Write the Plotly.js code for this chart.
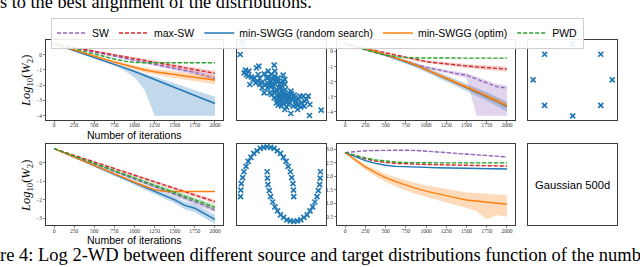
<!DOCTYPE html>
<html><head><meta charset="utf-8">
<script src="https://cdn.plot.ly/plotly-3.0.1.min.js"></script>
<style>html,body{margin:0;padding:0;background:#fff;} #chart{width:640px;height:267px;}</style>
</head><body><div id="chart"></div>
<script>
// ---------- DATA ----------
const iterations = [0,125,250,375,500,625,750,875,1000,1125,1250,1375,1500,1625,1750,1875,2000];
const xTickVals = [0,250,500,750,1000,1250,1500,1750,2000];
const seriesNames = ['SW','max-SW','min-SWGG (random search)','min-SWGG (optim)','PWD'];

// Panel A (top row, left)
const a_sw      = [0.72,0.58,0.44,0.30,0.16,0.02,-0.12,-0.26,-0.40,-0.53,-0.65,-0.77,-0.90,-1.03,-1.17,-1.36,-1.56];
const a_sw_sd   = [0,0.02,0.03,0.04,0.05,0.05,0.06,0.06,0.07,0.08,0.09,0.10,0.11,0.12,0.14,0.16,0.18];
const a_max     = [0.72,0.60,0.47,0.35,0.23,0.10,-0.02,-0.14,-0.26,-0.38,-0.50,-0.62,-0.74,-0.86,-0.98,-1.10,-1.22];
const a_max_sd  = [0,0.03,0.04,0.05,0.06,0.07,0.08,0.08,0.09,0.10,0.11,0.12,0.13,0.14,0.15,0.16,0.17];
const a_rand    = [0.72,0.50,0.27,0.05,-0.17,-0.40,-0.62,-0.86,-1.10,-1.36,-1.62,-1.88,-2.12,-2.38,-2.64,-2.92,-3.20];
const a_rand_hi = [0.72,0.53,0.31,0.10,-0.11,-0.33,-0.54,-0.76,-0.98,-1.20,-1.45,-1.67,-1.88,-2.10,-2.30,-2.52,-2.75];
const a_rand_lo = [0.72,0.47,0.23,0.00,-0.23,-0.47,-0.70,-1.05,-1.50,-2.30,-4.00,-4.00,-4.00,-4.00,-4.00,-4.00,-4.00];
const a_opt     = [0.72,0.52,0.30,0.08,-0.12,-0.30,-0.48,-0.66,-0.85,-1.00,-1.12,-1.22,-1.30,-1.40,-1.50,-1.58,-1.66];
const a_opt_sd  = [0,0.03,0.04,0.05,0.06,0.08,0.10,0.12,0.14,0.16,0.18,0.20,0.22,0.24,0.25,0.26,0.27];
const a_pwd     = [0.72,0.55,0.38,0.20,0.03,-0.13,-0.28,-0.42,-0.51,-0.53,-0.53,-0.53,-0.53,-0.53,-0.53,-0.53,-0.53];
const a_pwd_sd  = [0,0.02,0.02,0.02,0.03,0.03,0.03,0.03,0.03,0.03,0.03,0.03,0.03,0.03,0.03,0.03,0.03];

// Panel C (top row, third)
const c_sw      = [0.50,0.32,0.13,-0.05,-0.25,-0.45,-0.65,-0.88,-1.05,-1.20,-1.35,-1.46,-1.57,-1.82,-2.10,-2.33,-2.42];
const c_sw_hi   = [0.50,0.35,0.17,0.00,-0.19,-0.38,-0.57,-0.79,-0.95,-1.09,-1.23,-1.33,-1.43,-1.67,-1.94,-2.16,-2.24];
const c_sw_lo   = [0.50,0.29,0.09,-0.10,-0.31,-0.52,-0.73,-0.97,-1.15,-1.31,-1.47,-1.59,-1.75,-4.26,-4.26,-4.26,-4.26];
const c_max     = [0.50,0.35,0.20,0.05,-0.10,-0.25,-0.40,-0.55,-0.67,-0.75,-0.83,-0.90,-0.96,-1.02,-1.08,-1.13,-1.17];
const c_max_sd  = [0,0.02,0.03,0.04,0.05,0.06,0.07,0.08,0.09,0.10,0.11,0.12,0.13,0.14,0.15,0.16,0.17];
const c_rand    = [0.50,0.34,0.16,-0.03,-0.23,-0.45,-0.68,-0.93,-1.20,-1.50,-1.79,-2.08,-2.37,-2.67,-2.97,-3.30,-3.65];
const c_rand_sd = [0,0.03,0.05,0.07,0.09,0.11,0.13,0.15,0.17,0.19,0.21,0.23,0.25,0.27,0.29,0.31,0.33];
const c_opt     = [0.50,0.35,0.18,0.00,-0.20,-0.42,-0.65,-0.90,-1.18,-1.48,-1.77,-2.06,-2.35,-2.64,-2.93,-3.26,-3.58];
const c_opt_sd  = [0,0.02,0.03,0.04,0.05,0.06,0.07,0.08,0.09,0.10,0.11,0.12,0.13,0.14,0.15,0.16,0.17];
const c_pwd     = [0.50,0.30,0.10,-0.08,-0.24,-0.35,-0.41,-0.43,-0.44,-0.44,-0.44,-0.44,-0.44,-0.44,-0.44,-0.44,-0.44];
const c_pwd_sd  = [0,0.02,0.02,0.02,0.03,0.03,0.03,0.03,0.03,0.03,0.03,0.03,0.03,0.03,0.03,0.03,0.03];

// Panel E (bottom row, left)
const e_sw      = [0.75,0.55,0.35,0.14,-0.06,-0.27,-0.47,-0.68,-0.88,-1.08,-1.29,-1.49,-1.70,-1.90,-2.10,-2.32,-2.55];
const e_sw_sd   = [0,0.02,0.03,0.04,0.05,0.06,0.07,0.08,0.09,0.10,0.11,0.12,0.12,0.13,0.14,0.15,0.15];
const e_max     = [0.75,0.57,0.39,0.22,0.04,-0.14,-0.32,-0.50,-0.68,-0.85,-1.03,-1.21,-1.39,-1.57,-1.74,-1.92,-2.10];
const e_max_sd  = [0,0.02,0.03,0.04,0.05,0.05,0.06,0.06,0.07,0.07,0.08,0.08,0.09,0.09,0.10,0.10,0.10];
const e_rand    = [0.75,0.52,0.29,0.06,-0.17,-0.40,-0.63,-0.86,-1.10,-1.32,-1.55,-1.78,-2.00,-2.30,-2.45,-2.75,-3.05];
const e_rand_sd = [0,0.02,0.03,0.04,0.05,0.06,0.07,0.08,0.10,0.12,0.14,0.16,0.18,0.20,0.22,0.24,0.25];
const e_opt     = [0.75,0.52,0.30,0.07,-0.15,-0.37,-0.60,-0.82,-1.05,-1.27,-1.45,-1.55,-1.55,-1.55,-1.55,-1.55,-1.55];
const e_opt_sd  = [0,0.02,0.02,0.02,0.03,0.03,0.03,0.03,0.03,0.03,0.03,0.03,0.03,0.03,0.03,0.03,0.03];
const e_pwd     = [0.75,0.55,0.36,0.16,-0.04,-0.23,-0.43,-0.63,-0.82,-1.02,-1.22,-1.41,-1.61,-1.81,-2.00,-2.20,-2.40];
const e_pwd_sd  = [0,0.02,0.03,0.04,0.05,0.06,0.07,0.08,0.09,0.10,0.11,0.12,0.12,0.13,0.14,0.15,0.15];

// Panel G (bottom row, third)
const g_sw      = [2.88,2.92,2.95,2.96,2.97,2.97,2.97,2.96,2.94,2.91,2.88,2.85,2.82,2.79,2.76,2.74,2.72];
const g_sw_sd   = [0,0.01,0.01,0.02,0.02,0.02,0.02,0.02,0.02,0.02,0.02,0.02,0.02,0.02,0.02,0.02,0.02];
const g_max     = [2.88,2.76,2.65,2.57,2.51,2.48,2.46,2.45,2.44,2.43,2.42,2.41,2.40,2.40,2.39,2.39,2.38];
const g_max_sd  = [0,0.01,0.01,0.02,0.02,0.02,0.02,0.02,0.02,0.02,0.02,0.02,0.02,0.02,0.02,0.02,0.02];
const g_rand    = [2.88,2.72,2.58,2.48,2.41,2.37,2.35,2.34,2.33,2.32,2.31,2.30,2.30,2.29,2.28,2.28,2.27];
const g_rand_sd = [0,0.01,0.01,0.02,0.02,0.02,0.02,0.02,0.02,0.02,0.02,0.02,0.02,0.02,0.02,0.02,0.02];
const g_opt     = [2.88,2.60,2.35,2.14,1.95,1.80,1.67,1.55,1.45,1.36,1.28,1.20,1.12,1.08,1.05,1.00,0.96];
const g_opt_hi  = [2.88,2.66,2.44,2.26,2.09,1.96,1.85,1.75,1.67,1.60,1.53,1.46,1.40,1.38,1.35,1.33,1.30];
const g_opt_lo  = [2.88,2.52,2.24,2.00,1.80,1.62,1.48,1.34,1.22,1.12,1.02,0.92,0.82,0.70,0.40,0.55,0.50];
const g_pwd     = [2.88,2.78,2.68,2.61,2.56,2.53,2.51,2.50,2.50,2.50,2.50,2.50,2.50,2.50,2.50,2.50,2.50];
const g_pwd_sd  = [0,0.01,0.01,0.02,0.02,0.02,0.02,0.02,0.02,0.02,0.02,0.02,0.02,0.02,0.02,0.02,0.02];

// Scatter B (top row, 2nd): correlated Gaussian sample
const b_x = [52,46,289,254,198,62,58,65,70,75,88,95,102,97,105,112,118,118,125,128,132,138,140,145,148,150,152,155,158,160,162,165,168,170,172,175,178,180,182,185,188,190,195,198,200,205,208,212,215,218,222,225,230,235,238,245,250,255,148,155,160,165,170,175,180,185,192,135,128,122,140,145,150,158,162,168,175,180,110,105,92,85,80,72,100,130,138,150,165,172,178,188,195,200,210,220,228,240,160,168,176,184,142,152,132];
const b_y = [236,200,33,17,23,153,145,140,135,110,130,160,165,120,128,100,85,142,130,115,132,120,105,125,168,135,110,95,120,130,82,75,100,65,85,138,70,110,95,80,60,50,75,90,65,45,78,60,50,35,65,75,55,75,45,65,75,50,70,55,48,60,45,55,35,42,70,85,100,110,80,95,85,65,100,115,120,125,115,110,115,125,132,150,140,150,140,150,110,92,82,75,55,82,70,48,42,60,72,72,68,64,112,122,108];

// Scatter D (top row, 4th): eight points
const d_x = [0,0.71,1,0.71,0,-0.71,-1,-0.71];
const d_y = [1,0.71,0,-0.71,-1,-0.71,0,0.71];

// Scatter F (bottom row, 2nd): two moons
const f_x = [1,0.99,0.97,0.92,0.87,0.79,0.71,0.61,0.5,0.38,0.26,0.13,0,-0.13,-0.26,-0.38,-0.5,-0.61,-0.71,-0.79,-0.87,-0.92,-0.97,-0.99,-1,
             0,0.01,0.03,0.08,0.13,0.21,0.29,0.39,0.5,0.62,0.74,0.87,1,1.13,1.26,1.38,1.5,1.61,1.71,1.79,1.87,1.92,1.97,1.99,2];
const f_y = [0,0.13,0.26,0.38,0.5,0.61,0.71,0.79,0.87,0.92,0.97,0.99,1,0.99,0.97,0.92,0.87,0.79,0.71,0.61,0.5,0.38,0.26,0.13,0,
             0.5,0.37,0.24,0.12,0,-0.11,-0.21,-0.29,-0.37,-0.42,-0.47,-0.49,-0.5,-0.49,-0.47,-0.42,-0.37,-0.29,-0.21,-0.11,0,0.12,0.24,0.37,0.5];

const panel8Label = 'Gaussian 500d';
const xTitle = 'Number of iterations';
const yTitle = '<i>Log</i><sub>10</sub>(<i>W</i><sub>2</sub>)';
const topText = 's to the best alignment of the distributions.';
const caption = 're 4: Log 2-WD between different source and target distributions function of the number';

// ---------- STYLE ----------
const colors = {sw:'#9467bd', max:'#d62728', rand:'#1f77b4', opt:'#ff7f0e', pwd:'#2ca02c'};
const bandAlpha = {sw:'rgba(148,103,189,0.28)', max:'rgba(214,39,40,0.22)', rand:'rgba(31,119,180,0.28)', opt:'rgba(255,127,14,0.28)', pwd:'rgba(44,160,44,0.25)'};
const W = 640, H = 267;
const px = v => v / W;
const py = v => 1 - v / H;

const traces = [];
function addSeries(ax, key, name, mean, sd, lo, hi, dashed, legend) {
  const xa = 'x' + ax, ya = 'y' + ax;
  const up = hi || mean.map((m, i) => m + sd[i]);
  const dn = lo || mean.map((m, i) => m - sd[i]);
  traces.push({x: iterations.concat(iterations.slice().reverse()), y: up.concat(dn.slice().reverse()),
    xaxis: xa, yaxis: ya, type: 'scatter', mode: 'lines', fill: 'toself', fillcolor: bandAlpha[key],
    line: {width: 0, color: colors[key]}, hoverinfo: 'skip', showlegend: false});
  traces.push({x: iterations, y: mean, xaxis: xa, yaxis: ya, type: 'scatter', mode: 'lines', name: name,
    line: {color: colors[key], width: 1.4, dash: dashed ? '4px,2px' : 'solid'}, showlegend: legend});
}
function addPanel(ax, d, legend) {
  addSeries(ax, 'sw', seriesNames[0], d.sw, d.sw_sd, d.sw_lo, d.sw_hi, true, legend);
  addSeries(ax, 'max', seriesNames[1], d.max, d.max_sd, null, null, true, legend);
  addSeries(ax, 'rand', seriesNames[2], d.rand, d.rand_sd, d.rand_lo, d.rand_hi, false, legend);
  addSeries(ax, 'opt', seriesNames[3], d.opt, d.opt_sd, d.opt_lo, d.opt_hi, false, legend);
  addSeries(ax, 'pwd', seriesNames[4], d.pwd, d.pwd_sd, null, null, true, legend);
}
addPanel('', {sw:a_sw, sw_sd:a_sw_sd, max:a_max, max_sd:a_max_sd, rand:a_rand, rand_lo:a_rand_lo, rand_hi:a_rand_hi, opt:a_opt, opt_sd:a_opt_sd, pwd:a_pwd, pwd_sd:a_pwd_sd}, true);
addPanel('3', {sw:c_sw, sw_lo:c_sw_lo, sw_hi:c_sw_hi, max:c_max, max_sd:c_max_sd, rand:c_rand, rand_sd:c_rand_sd, opt:c_opt, opt_sd:c_opt_sd, pwd:c_pwd, pwd_sd:c_pwd_sd}, false);
addPanel('5', {sw:e_sw, sw_sd:e_sw_sd, max:e_max, max_sd:e_max_sd, rand:e_rand, rand_sd:e_rand_sd, opt:e_opt, opt_sd:e_opt_sd, pwd:e_pwd, pwd_sd:e_pwd_sd}, false);
addPanel('7', {sw:g_sw, sw_sd:g_sw_sd, max:g_max, max_sd:g_max_sd, rand:g_rand, rand_sd:g_rand_sd, opt:g_opt, opt_lo:g_opt_lo, opt_hi:g_opt_hi, pwd:g_pwd, pwd_sd:g_pwd_sd}, false);

const xMarker = {symbol: 'x-thin', size: 5, color: colors.rand, line: {width: 1.7, color: colors.rand}};
traces.push({x: b_x, y: b_y, xaxis: 'x2', yaxis: 'y2', type: 'scatter', mode: 'markers', marker: xMarker, showlegend: false});
traces.push({x: d_x, y: d_y, xaxis: 'x4', yaxis: 'y4', type: 'scatter', mode: 'markers', marker: xMarker, showlegend: false});
traces.push({x: f_x, y: f_y, xaxis: 'x6', yaxis: 'y6', type: 'scatter', mode: 'markers', marker: xMarker, showlegend: false});
traces.push({x: [], y: [], xaxis: 'x8', yaxis: 'y8', type: 'scatter', mode: 'markers', showlegend: false});

const frame = {showline: true, mirror: true, linecolor: '#3c3c3c', linewidth: 1, showgrid: false, zeroline: false};
const tickFont = {family: 'Liberation Serif, serif', size: 5.5, color: '#333'};
function lineX(dom, anchor) {
  return Object.assign({}, frame, {domain: dom, anchor: anchor, range: [-100, 2100], tickvals: xTickVals,
    ticks: 'outside', ticklen: 2, tickwidth: 0.6, tickcolor: '#333', tickfont: tickFont, ticklabelstandoff: -2});
}
function lineY(dom, anchor, range, tv, fmt) {
  return Object.assign({}, frame, {domain: dom, anchor: anchor, range: range, tickvals: tv, tickformat: fmt,
    ticks: 'outside', ticklen: 2, tickwidth: 0.6, tickcolor: '#333', tickfont: tickFont});
}
function blank(dom, anchor, range) {
  return Object.assign({}, frame, {domain: dom, anchor: anchor, range: range, showticklabels: false, ticks: ''});
}
const colA = [px(46), px(223)], colB = [px(236.5), px(325.5)], colC = [px(337), px(515)], colD = [px(528), px(617)];
const rowTop = [py(119.5), py(39.5)], rowBot = [py(225), py(144)];

const layout = {
  width: W, height: H, margin: {l: 0, r: 0, t: 0, b: 0}, paper_bgcolor: '#fff', plot_bgcolor: '#fff',
  font: {family: 'Liberation Sans, Arial, sans-serif', color: '#000'},
  xaxis: lineX(colA, 'y'), yaxis: lineY(rowTop, 'x', [-4.25, 1.0], [0,-1,-2,-3,-4], 'd'),
  xaxis2: blank(colB, 'y2', [35, 302]), yaxis2: blank(rowTop, 'x2', [5, 245]),
  xaxis3: lineX(colC, 'y3'), yaxis3: lineY(rowTop, 'x3', [-4.5, 0.79], [0,-1,-2,-3,-4], 'd'),
  xaxis4: blank(colD, 'y4', [-1.13, 1.12]), yaxis4: blank(rowTop, 'x4', [-1.1, 1.12]),
  xaxis5: lineX(colA, 'y5'), yaxis5: lineY(rowBot, 'x5', [-3.35, 1.0], [0,-1,-2,-3], 'd'),
  xaxis6: blank(colB, 'y6', [-1.15, 2.19]), yaxis6: blank(rowBot, 'x6', [-0.574, 1.06]),
  xaxis7: lineX(colC, 'y7'), yaxis7: lineY(rowBot, 'x7', [0.19, 3.2], [0.5,1,1.5,2,2.5,3], '.1f'),
  xaxis8: blank(colD, 'y8', [0, 1]), yaxis8: blank(rowBot, 'x8', [0, 1]),
  showlegend: true,
  legend: {orientation: 'h', x: px(51), y: py(17.5), xanchor: 'left', yanchor: 'top', traceorder: 'normal',
    bgcolor: 'rgba(255,255,255,0.9)', bordercolor: '#cfcfcf', borderwidth: 1, itemwidth: 30,
    font: {family: 'Liberation Sans, Arial, sans-serif', size: 10.5, color: '#000'}},
  annotations: [
    {text: topText, xref: 'paper', yref: 'paper', x: px(-2), y: py(1.5), xanchor: 'left', yanchor: 'middle', showarrow: false,
     font: {family: 'Liberation Serif, Times New Roman, serif', size: 18.3, color: '#000'}},
    {text: caption, xref: 'paper', yref: 'paper', x: px(-2), y: py(255), xanchor: 'left', yanchor: 'middle', showarrow: false,
     font: {family: 'Liberation Serif, Times New Roman, serif', size: 18.5, color: '#000'}},
    {text: xTitle, xref: 'paper', yref: 'paper', x: px(134.5), y: py(135), xanchor: 'center', yanchor: 'middle', showarrow: false,
     font: {size: 10.5}},
    {text: xTitle, xref: 'paper', yref: 'paper', x: px(134.5), y: py(240), xanchor: 'center', yanchor: 'middle', showarrow: false,
     font: {size: 10.5}},
    {text: yTitle, xref: 'paper', yref: 'paper', x: px(27), y: py(81), xanchor: 'center', yanchor: 'middle', textangle: -90, showarrow: false,
     font: {family: 'Liberation Serif, serif', size: 12.5}},
    {text: yTitle, xref: 'paper', yref: 'paper', x: px(27), y: py(186), xanchor: 'center', yanchor: 'middle', textangle: -90, showarrow: false,
     font: {family: 'Liberation Serif, serif', size: 12.5}},
    {text: panel8Label, xref: 'x8 domain', yref: 'y8 domain', x: 0.5, y: 0.5, xanchor: 'center', yanchor: 'middle', showarrow: false,
     font: {size: 11.2}}
  ]
};
Plotly.newPlot('chart', traces, layout, {staticPlot: true, displayModeBar: false});
</script></body></html>
